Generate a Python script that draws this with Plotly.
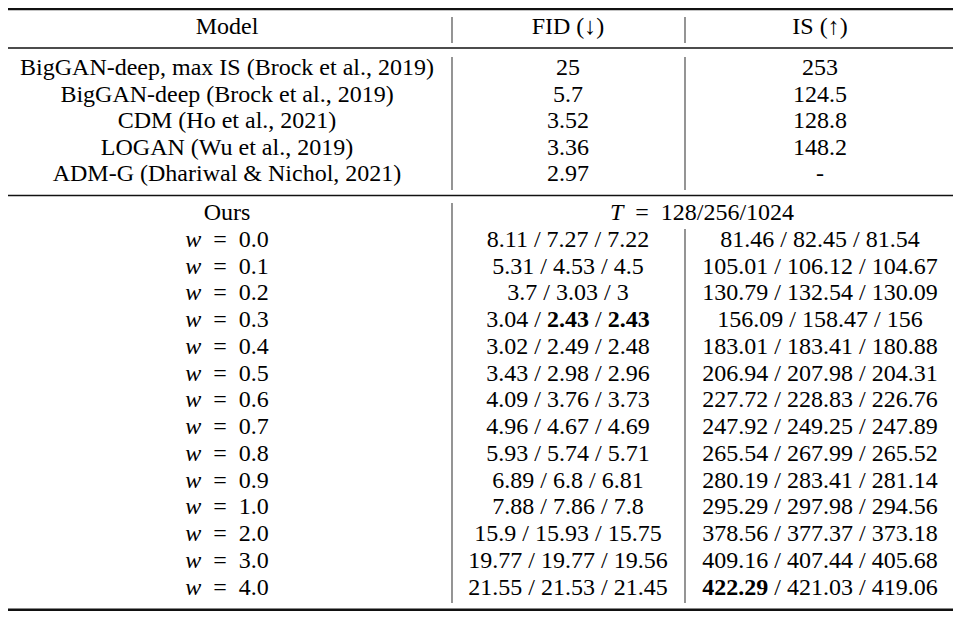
"""Таблица FID / IS для guidance weight w при T = 128/256/1024 (Plotly)."""
import plotly.graph_objects as go

# --- данные -----------------------------------------------------------------
header = ["Model", "FID (↓)", "IS (↑)"]

baseline_models = [
    "BigGAN-deep, max IS (Brock et al., 2019)",
    "BigGAN-deep (Brock et al., 2019)",
    "CDM (Ho et al., 2021)",
    "LOGAN (Wu et al., 2019)",
    "ADM-G (Dhariwal & Nichol, 2021)",
]
baseline_fid = ["25", "5.7", "3.52", "3.36", "2.97"]
baseline_is = ["253", "124.5", "128.8", "148.2", "-"]

ours_label = "Ours"
steps_label = "<i>T</i>\u2002=\u2002128/256/1024"
guidance_w = ["0.0", "0.1", "0.2", "0.3", "0.4", "0.5", "0.6",
              "0.7", "0.8", "0.9", "1.0", "2.0", "3.0", "4.0"]

fid_t128 = ["8.11", "5.31", "3.7", "3.04", "3.02", "3.43", "4.09",
            "4.96", "5.93", "6.89", "7.88", "15.9", "19.77", "21.55"]
fid_t256 = ["7.27", "4.53", "3.03", "2.43", "2.49", "2.98", "3.76",
            "4.67", "5.74", "6.8", "7.86", "15.93", "19.77", "21.53"]
fid_t1024 = ["7.22", "4.5", "3", "2.43", "2.48", "2.96", "3.73",
             "4.69", "5.71", "6.81", "7.8", "15.75", "19.56", "21.45"]

is_t128 = ["81.46", "105.01", "130.79", "156.09", "183.01", "206.94", "227.72",
           "247.92", "265.54", "280.19", "295.29", "378.56", "409.16", "422.29"]
is_t256 = ["82.45", "106.12", "132.54", "158.47", "183.41", "207.98", "228.83",
           "249.25", "267.99", "283.41", "297.98", "377.37", "407.44", "421.03"]
is_t1024 = ["81.54", "104.67", "130.09", "156", "180.88", "204.31", "226.76",
            "247.89", "265.52", "281.14", "294.56", "373.18", "405.68", "419.06"]

# --- разметка: координаты = пиксели окна 964x619 ------------------------------
# у страницы отступ body 8px, поэтому сам график на 16px меньше окна
W, H, PAD = 964, 619, 8
X_MODEL, X_FID, X_IS, X_STEPS = 227, 568, 820, 702
X_LEFT, X_RIGHT = 8, 953
X_SEP1, X_SEP2 = 452, 685
Y_HEADER = 28
Y_BASE0, DY_BASE = 69, 26.5
Y_OURS0, DY_OURS = 214, 26.77
FONT = dict(family="Liberation Serif", size=24, color="#000")


def fmt_triplet(values, best):
    parts = [f"<b>{v}</b>" if float(v) == best else v for v in values]
    return " / ".join(parts)


best_fid = min(float(v) for v in fid_t128 + fid_t256 + fid_t1024)
best_is = max(float(v) for v in is_t128 + is_t256 + is_t1024)

xs, ys, texts = [], [], []


def put(x, y, t):
    xs.append(x)
    ys.append(y)
    texts.append(t)


for x, t in zip((X_MODEL, X_FID, X_IS), header):
    put(x, Y_HEADER, t)

for i, (m, f, s) in enumerate(zip(baseline_models, baseline_fid, baseline_is)):
    y = Y_BASE0 + i * DY_BASE
    put(X_MODEL, y, m.replace("&", "&amp;"))
    put(X_FID, y, f)
    put(X_IS, y, s)

put(X_MODEL, Y_OURS0, ours_label)
put(X_STEPS, Y_OURS0, steps_label)
for i, w in enumerate(guidance_w, start=1):
    y = Y_OURS0 + i * DY_OURS
    put(X_MODEL, y, f"<i>w</i>\u2002=\u2002{w}")
    put(X_FID, y, fmt_triplet((fid_t128[i - 1], fid_t256[i - 1], fid_t1024[i - 1]), best_fid))
    put(X_IS, y, fmt_triplet((is_t128[i - 1], is_t256[i - 1], is_t1024[i - 1]), best_is))

fig = go.Figure(go.Scatter(
    x=xs, y=ys, text=texts, mode="text",
    textposition="middle center", textfont=FONT,
    hoverinfo="skip", showlegend=False, cliponaxis=False,
))

shapes = []
# горизонтальные линейки
for y, width in ((9.2, 2.2), (48, 1.3), (195.5, 1.5), (609.8, 2.4)):
    shapes.append(dict(type="line", x0=X_LEFT, x1=X_RIGHT, y0=y, y1=y,
                       line=dict(color="#111", width=width)))
# вертикальные разделители (серые, с разрывами у линеек)
v_segments = [
    (X_SEP1, 17, 43), (X_SEP2, 17, 43),
    (X_SEP1, 57, 190), (X_SEP2, 57, 190),
    (X_SEP1, 203, 603), (X_SEP2, 229, 603),
]
for x, y0, y1 in v_segments:
    shapes.append(dict(type="line", x0=x, x1=x, y0=y0, y1=y1,
                       line=dict(color="#7a7a7a", width=1.6)))

fig.update_layout(
    width=W - 2 * PAD, height=H - 2 * PAD,
    margin=dict(l=0, r=0, t=0, b=0),
    font=FONT,
    paper_bgcolor="white", plot_bgcolor="white",
    xaxis=dict(range=[PAD, W - PAD], visible=False, fixedrange=True),
    yaxis=dict(range=[H - PAD, PAD], visible=False, fixedrange=True),
    shapes=shapes,
)

fig.write_html("out.html")
